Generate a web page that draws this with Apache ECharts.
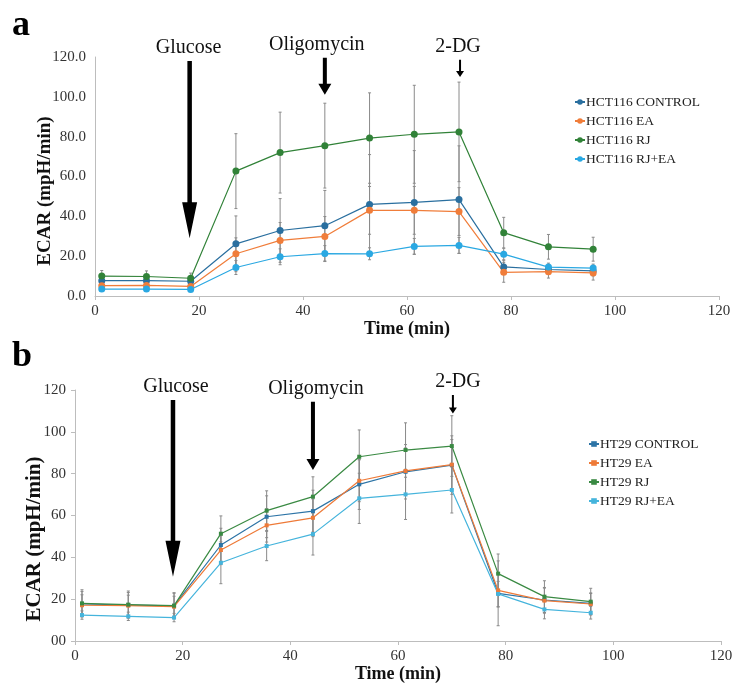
<!DOCTYPE html>
<html>
<head>
<meta charset="utf-8">
<script src="https://cdn.jsdelivr.net/npm/echarts@6/dist/echarts.min.js"></script>
<style>
  html, body { margin: 0; padding: 0; background: #fff; }
  #chart { width: 746px; height: 694px; }
</style>
</head>
<body>
<div id="chart"></div>
<script>
  // sample times (min), shared by both panels
  const times = [1.3, 9.9, 18.4, 27.1, 35.6, 44.2, 52.8, 61.4, 70.0, 78.6, 87.2, 95.8];

  // panel a: HCT116
  const hctNames = ['HCT116 CONTROL', 'HCT116 EA', 'HCT116 RJ', 'HCT116 RJ+EA'];
  const hctControl = [7.7, 7.7, 7.4, 26.2, 32.9, 35.3, 46.0, 47.0, 48.4, 14.6, 13.3, 12.6];
  const hctEA      = [5.2, 5.3, 4.8, 21.2, 27.9, 29.9, 43.0, 43.0, 42.4, 11.9, 12.2, 11.6];
  const hctRJ      = [10.0, 9.8, 8.9, 62.7, 72.0, 75.5, 79.3, 81.2, 82.4, 31.8, 24.7, 23.5];
  const hctRJEA    = [3.5, 3.5, 3.3, 14.3, 19.7, 21.3, 21.2, 24.9, 25.4, 21.0, 14.5, 14.0];
  const hctControlErr = [1.5, 1.5, 1.5, 14.0, 16.0, 17.7, 25.0, 26.0, 27.0, 3.5, 2.5, 2.5];
  const hctEAErr      = [1.0, 1.0, 1.0, 8.0, 9.0, 10.0, 12.0, 12.0, 12.0, 5.0, 3.2, 3.6];
  const hctRJErr      = [2.8, 2.8, 2.6, 18.8, 20.3, 21.3, 22.7, 24.6, 25.0, 7.7, 6.2, 6.0];
  const hctRJEAErr    = [0.8, 0.8, 0.8, 3.5, 4.0, 4.0, 3.0, 4.0, 4.0, 3.0, 2.0, 2.0];

  // panel b: HT29
  const htNames = ['HT29 CONTROL', 'HT29 EA', 'HT29 RJ', 'HT29 RJ+EA'];
  const htControl = [17.7, 17.2, 16.8, 45.9, 59.4, 62.1, 74.9, 80.9, 84.1, 22.8, 19.6, 18.0];
  const htEA      = [17.1, 16.9, 16.4, 43.5, 55.3, 58.9, 76.6, 81.3, 84.3, 24.2, 19.3, 17.7];
  const htRJ      = [18.0, 17.4, 16.9, 51.3, 62.3, 69.0, 88.1, 91.3, 93.2, 32.2, 21.2, 18.8];
  const htRJEA    = [12.4, 11.8, 11.2, 37.4, 45.4, 51.1, 68.2, 70.1, 72.2, 22.5, 15.1, 13.5];
  const htControlErr = [6.0, 6.0, 6.0, 8.0, 10.0, 10.0, 12.0, 13.0, 14.0, 15.5, 6.0, 5.0];
  const htEAErr      = [5.0, 5.0, 5.0, 7.0, 8.0, 9.0, 10.0, 11.0, 12.0, 8.0, 6.0, 5.0];
  const htRJErr      = [6.5, 6.5, 6.2, 8.5, 9.5, 9.5, 12.8, 13.0, 14.5, 9.4, 7.6, 6.4];
  const htRJEAErr    = [2.0, 2.0, 2.0, 10.0, 7.0, 10.0, 12.0, 12.0, 11.0, 6.0, 4.5, 3.0];

  // injections
  const injNames = ['Glucose', 'Oligomycin', '2-DG'];
  const injTimes = [18.2, 44.2, 70.2];

  const colorsA = ['#2a6f9f', '#f07d3a', '#318238', '#2aa8e2'];
  const colorsB = ['#2d74a6', '#ee7a38', '#3a8a43', '#45b4dc'];
  const serif = 'Liberation Serif';

  const chart = echarts.init(document.getElementById('chart'));

  function lineSeries(i, name, vals, color, symbol, size) {
    return {
      type: 'line', name: name, xAxisIndex: i, yAxisIndex: i,
      data: times.map((t, k) => [t, vals[k]]),
      symbol: symbol, symbolSize: size,
      itemStyle: {color: color},
      lineStyle: {color: color, width: 1.2},
      z: 3, silent: true
    };
  }

  function errSeries(i, vals, errs) {
    return {
      type: 'custom', xAxisIndex: i, yAxisIndex: i, silent: true, z: 1,
      data: times.map((t, k) => [t, vals[k] - errs[k], vals[k] + errs[k]]),
      encode: {x: 0, y: [1, 2]},
      renderItem: function (params, api) {
        const lo = api.coord([api.value(0), api.value(1)]);
        const hi = api.coord([api.value(0), api.value(2)]);
        const st = {stroke: '#8a8a8a', lineWidth: 1};
        return {
          type: 'group',
          children: [
            {type: 'line', shape: {x1: lo[0], y1: lo[1], x2: hi[0], y2: hi[1]}, style: st},
            {type: 'line', shape: {x1: lo[0] - 1.5, y1: lo[1], x2: lo[0] + 1.5, y2: lo[1]}, style: st},
            {type: 'line', shape: {x1: hi[0] - 1.5, y1: hi[1], x2: hi[0] + 1.5, y2: hi[1]}, style: st}
          ]
        };
      }
    };
  }

  function xAxis(i, gap) {
    return {
      type: 'value', gridIndex: i, min: 0, max: 120, interval: 20,
      name: 'Time (min)', nameLocation: 'middle', nameGap: gap,
      nameTextStyle: {fontFamily: serif, fontWeight: 'bold', fontSize: 18, color: '#111'},
      axisLine: {lineStyle: {color: '#bdbdbd'}},
      axisTick: {show: true, length: 4, lineStyle: {color: '#bdbdbd'}},
      axisLabel: {fontFamily: serif, fontSize: 15, color: '#333', margin: 8},
      splitLine: {show: false}
    };
  }

  function yAxis(i, fmt, gap, pad, fs, tick) {
    return {
      type: 'value', gridIndex: i, min: 0, max: 120, interval: 20,
      name: 'ECAR (mpH/min)', nameLocation: 'middle', nameGap: gap, nameMoveOverlap: false,
      nameTextStyle: {fontFamily: serif, fontWeight: 'bold', fontSize: fs, color: '#111', padding: pad},
      axisLine: {show: true, lineStyle: {color: '#bdbdbd'}},
      axisTick: {show: tick, length: 4, lineStyle: {color: '#bdbdbd'}},
      axisLabel: {fontFamily: serif, fontSize: 15, color: '#333', margin: 9, formatter: fmt},
      splitLine: {show: false}
    };
  }

  function legend(names, left, top) {
    return {
      data: names, orient: 'vertical', left: left, top: top,
      itemWidth: 10, itemHeight: 7, itemGap: 5, selectedMode: false,
      textStyle: {fontFamily: serif, fontSize: 13.5, color: '#222', padding: [0, 0, 0, -4]}
    };
  }

  const option = {
    animation: false,
    backgroundColor: '#fff',
    grid: [
      {left: 95, top: 57, width: 624, height: 239},
      {left: 75, top: 390, width: 646, height: 251}
    ],
    xAxis: [xAxis(0, 22), xAxis(1, 20)],
    yAxis: [
      yAxis(0, v => v.toFixed(1), 40, [0, 29, 0, 0], 19, false),
      yAxis(1, v => (v === 0 ? '00' : String(v)), 30, [0, 47, 0, 0], 21, true)
    ],
    legend: [legend(hctNames, 569, 90), legend(htNames, 583, 432)],
    series: [
      errSeries(0, hctControl, hctControlErr),
      errSeries(0, hctEA, hctEAErr),
      errSeries(0, hctRJ, hctRJErr),
      errSeries(0, hctRJEA, hctRJEAErr),
      lineSeries(0, hctNames[0], hctControl, colorsA[0], 'circle', 7),
      lineSeries(0, hctNames[1], hctEA, colorsA[1], 'circle', 7),
      lineSeries(0, hctNames[2], hctRJ, colorsA[2], 'circle', 7),
      lineSeries(0, hctNames[3], hctRJEA, colorsA[3], 'circle', 7),
      errSeries(1, htControl, htControlErr),
      errSeries(1, htEA, htEAErr),
      errSeries(1, htRJ, htRJErr),
      errSeries(1, htRJEA, htRJEAErr),
      lineSeries(1, htNames[0], htControl, colorsB[0], 'rect', 4),
      lineSeries(1, htNames[1], htEA, colorsB[1], 'rect', 4),
      lineSeries(1, htNames[2], htRJ, colorsB[2], 'rect', 4),
      lineSeries(1, htNames[3], htRJEA, colorsB[3], 'rect', 4)
    ]
  };
  chart.setOption(option);

  // arrows: top / tip given in axis values, label shift in px
  const arrowsA = {top: [118, 119.6, 118.6], tip: [29, 101, 110], dx: [-1, -8, -2]};
  const arrowsB = {top: [115.2, 114.4, 117.6], tip: [30.7, 81.7, 108.8], dx: [3, 3, 5]};
  const headLen = [36, 11, 6], headW = [15, 13, 8], shaftW = [4.5, 4, 2];

  function arrowGraphics(gi, arr) {
    const out = [];
    injTimes.forEach((t, k) => {
      const top = chart.convertToPixel({gridIndex: gi}, [t, arr.top[k]]);
      const tip = chart.convertToPixel({gridIndex: gi}, [t, arr.tip[k]]);
      const x = tip[0], hb = tip[1] - headLen[k], sw = shaftW[k] / 2, hw = headW[k] / 2;
      out.push({
        type: 'polygon', silent: true, z: 10,
        shape: {points: [[x - sw, top[1]], [x + sw, top[1]], [x + sw, hb], [x + hw, hb],
                         [x, tip[1]], [x - hw, hb], [x - sw, hb]]},
        style: {fill: '#000'}
      });
      out.push({
        type: 'text', silent: true, z: 10, x: x + arr.dx[k], y: top[1] - 13,
        style: {text: injNames[k], fontFamily: serif, fontSize: 20, fill: '#111',
                align: 'center', verticalAlign: 'middle'}
      });
    });
    return out;
  }

  chart.setOption({
    graphic: [
      {type: 'text', left: 12, top: 8, style: {text: 'a', fontFamily: serif, fontWeight: 'bold', fontSize: 36, fill: '#000'}},
      {type: 'text', left: 12, top: 339, style: {text: 'b', fontFamily: serif, fontWeight: 'bold', fontSize: 36, fill: '#000'}}
    ].concat(arrowGraphics(0, arrowsA), arrowGraphics(1, arrowsB))
  });
</script>
</body>
</html>
